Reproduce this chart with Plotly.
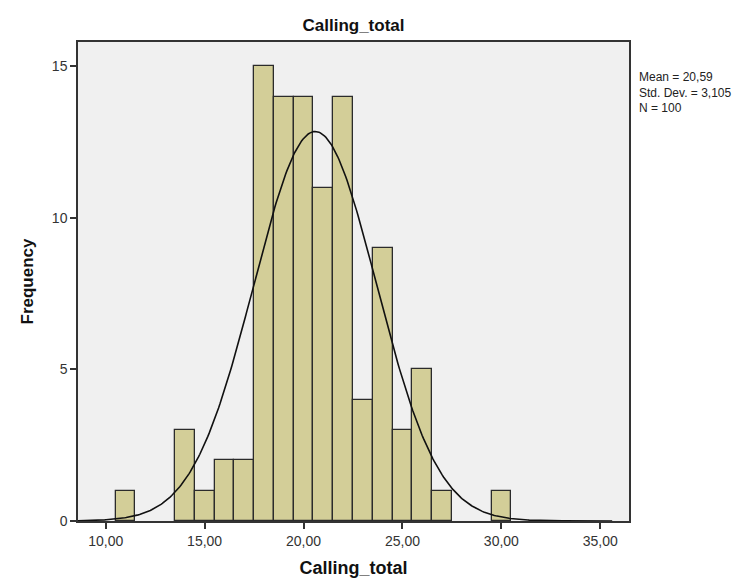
import numpy as np
import plotly.graph_objects as go

# Histogram data (bin centers, width 1)
bin_centers = [11, 14, 15, 16, 17, 18, 19, 20, 21, 22, 23, 24, 25, 26, 27, 30]
frequencies = [1, 3, 1, 2, 2, 15, 14, 14, 11, 14, 4, 9, 3, 5, 1, 1]
BIN_WIDTH = 1.0

MEAN = 20.59
STD_DEV = 3.105
N = 100

x_tick_vals = [10, 15, 20, 25, 30, 35]
x_tick_text = ["10,00", "15,00", "20,00", "25,00", "30,00", "35,00"]
y_tick_vals = [0, 5, 10, 15]
y_tick_text = ["0", "5", "10", "15"]

X_RANGE = [8.6, 36.45]
Y_RANGE = [0, 15.8]

# fitted normal curve (as SPSS draws it) from the stated mean / sd
xs = np.linspace(X_RANGE[0], 35.6, 400)
ys = N * BIN_WIDTH / (STD_DEV * np.sqrt(2 * np.pi)) * np.exp(-0.5 * ((xs - MEAN) / STD_DEV) ** 2)

fig = go.Figure()
fig.add_trace(go.Bar(
    x=bin_centers, y=frequencies, width=BIN_WIDTH,
    marker=dict(color="#D3CE98", line=dict(color="#2b2b2b", width=1.3)),
    hoverinfo="x+y", showlegend=False,
))
fig.add_trace(go.Scatter(
    x=xs, y=ys, mode="lines",
    line=dict(color="#111111", width=1.6),
    hoverinfo="skip", showlegend=False,
))

font_family = "Liberation Sans, Arial, sans-serif"
fig.update_layout(
    width=744, height=579,
    margin=dict(l=70, r=123, t=34, b=57),
    paper_bgcolor="white",
    plot_bgcolor="#F0F0F0",
    bargap=0,
    font=dict(family=font_family, color="#333333"),
    title=dict(text="<b>Calling_total</b>", x=(70 + 621) / 2 / 744, xanchor="center",
               y=1 - 17 / 579, yanchor="middle",
               font=dict(size=17, color="#111111", family=font_family)),
    xaxis=dict(
        range=X_RANGE, tickvals=x_tick_vals, ticktext=x_tick_text,
        ticks="outside", ticklen=6, tickwidth=1.5, tickcolor="#333333",
        showgrid=False, zeroline=False,
        showline=True, linecolor="#333333", linewidth=1.5, mirror=True,
        tickfont=dict(size=14, color="#333333"),
        title=dict(text="<b>Calling_total</b>", font=dict(size=18, color="#111111"), standoff=14),
    ),
    yaxis=dict(
        range=Y_RANGE, tickvals=y_tick_vals, ticktext=y_tick_text,
        ticks="outside", ticklen=6, tickwidth=1.5, tickcolor="#333333",
        showgrid=False, zeroline=False,
        showline=True, linecolor="#333333", linewidth=1.5, mirror=True,
        tickfont=dict(size=14, color="#333333"),
        title=dict(text="<b>Frequency</b>", font=dict(size=17, color="#111111"), standoff=14),
    ),
    annotations=[dict(
        text="Mean = 20,59<br>Std. Dev. = 3,105<br>N = 100",
        xref="paper", yref="paper", x=1.015, y=1 - (60 - 34) / 488,
        xanchor="left", yanchor="top", align="left", showarrow=False,
        font=dict(size=12, color="#222222", family=font_family),
    )],
)

fig.write_html("out.html")
